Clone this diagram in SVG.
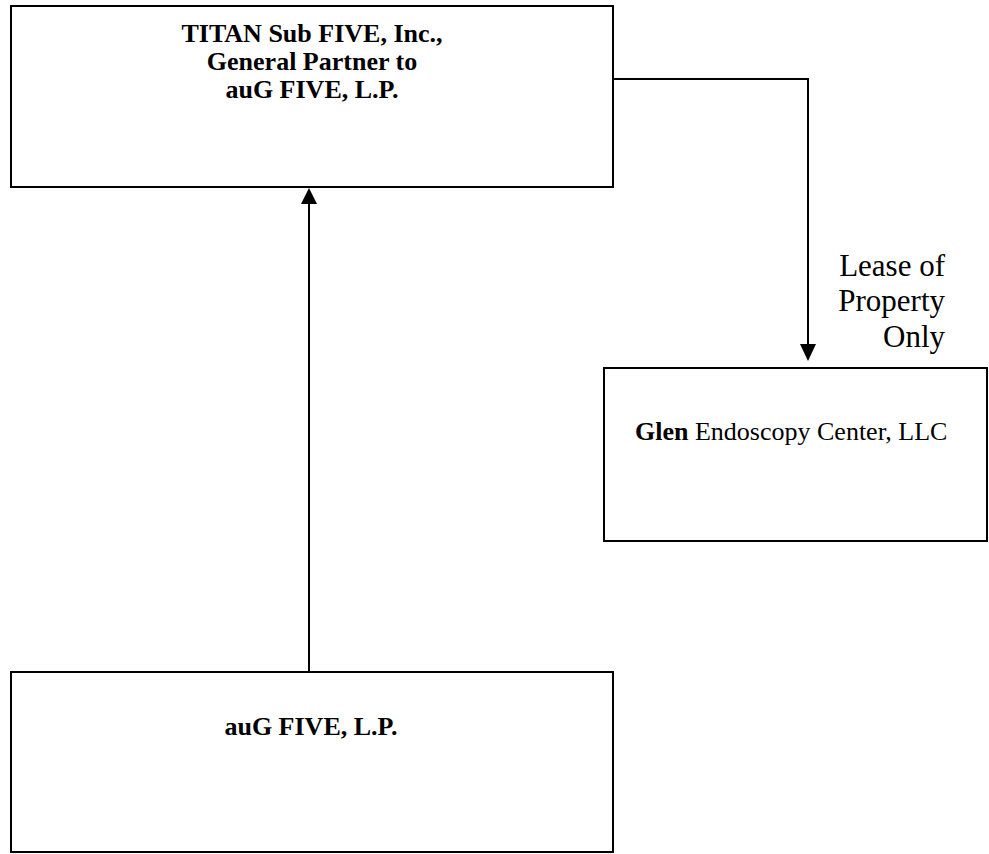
<svg xmlns="http://www.w3.org/2000/svg" width="989" height="854" viewBox="0 0 989 854">
<style>
.box{fill:#fff;stroke:#000;stroke-width:2}
.t{font-family:"Liberation Serif","Times New Roman",serif;fill:#000}
.b{font-weight:bold}
.line{fill:none;stroke:#000;stroke-width:2}
</style>
<rect width="989" height="854" fill="#fff"/>
<g id="titan">
<rect class="box" x="11" y="6" width="602" height="181"/>
<text class="t b" x="312" y="42" font-size="26" text-anchor="middle">TITAN Sub FIVE, Inc.,</text>
<text class="t b" x="312" y="70" font-size="26" text-anchor="middle">General Partner to</text>
<text class="t b" x="312" y="98" font-size="26" text-anchor="middle">auG FIVE, L.P.</text>
</g>
<g id="glen">
<rect class="box" x="604" y="368" width="383" height="173"/>
<text class="t" x="635" y="440" font-size="26"><tspan font-weight="bold">Glen</tspan> Endoscopy Center, LLC</text>
</g>
<g id="aug">
<rect class="box" x="11" y="672" width="602" height="180"/>
<text class="t b" x="311" y="735" font-size="26" text-anchor="middle">auG FIVE, L.P.</text>
</g>
<g id="connectors">
<path class="line" d="M613,79 H808 V346"/>
<path d="M800,344 L816,344 L808,361 Z" fill="#000"/>
<path class="line" d="M309,672 V203"/>
<path d="M301,204 L317,204 L309,188 Z" fill="#000"/>
<text class="t" font-size="31" text-anchor="end"><tspan x="945" y="276">Lease of</tspan><tspan x="945" y="311">Property</tspan><tspan x="945" y="347">Only</tspan></text>
</g>
</svg>
